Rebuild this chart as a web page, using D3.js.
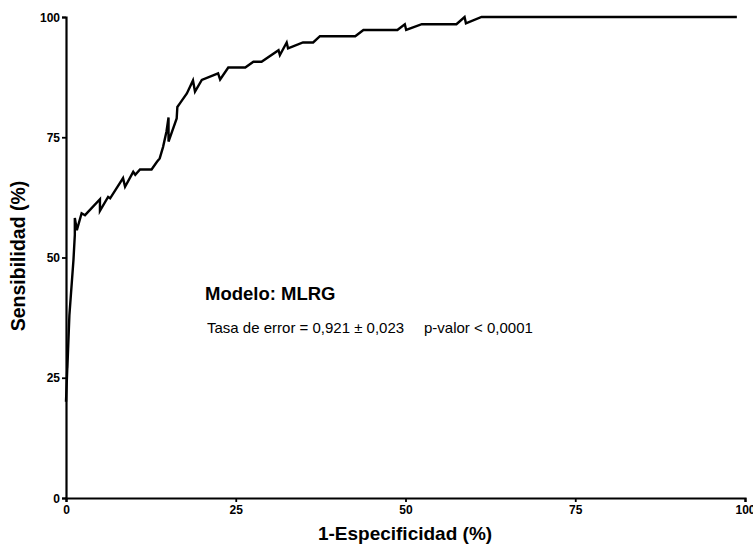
<!DOCTYPE html>
<head>
  <meta charset="utf-8">
  <title>Curva ROC</title>
  <script src="https://d3js.org/d3.v7.min.js"></script>
  <style>
    body { margin: 0; background: #fff; }
    text { font-family: Arial, "Liberation Sans", sans-serif; fill: #000; }
  </style>
</head>
<body>
  <div id="chart"></div>
  <script>
    // 1-Especificidad (%) y Sensibilidad (%)
    var fpr = [0, 0.3, 0.2, 0.5, 1.1, 1.3, 1.3, 1.6, 2.3, 2.8, 5.0, 5.0, 6.2, 6.5, 8.4, 8.7,
      9.9, 10.2, 10.9, 12.6, 13.4, 13.8, 14.3, 14.8, 15.1, 15.1, 16.3, 16.4, 16.8, 17.8,
      18.7, 19.0, 20.0, 22.4, 22.7, 23.9, 26.4, 27.6, 28.8, 31.3, 31.5, 32.5, 32.7, 34.9,
      36.4, 37.4, 42.6, 43.8, 48.8, 49.9, 50.1, 52.4, 57.5, 58.7, 58.9, 61.2, 98.8];
    var sens = [20, 31, 27, 38, 49.5, 54.7, 58.2, 55.7, 59.2, 58.8, 62.1, 59.7, 62.6, 62.3, 66.5, 64.7,
      67.8, 67.2, 68.3, 68.3, 69.9, 70.6, 73.0, 76.2, 79.1, 74.1, 78.9, 81.3, 82.1, 84.1,
      86.8, 84.5, 86.9, 88.3, 87.0, 89.5, 89.5, 90.7, 90.7, 93.1, 92.1, 94.7, 93.5, 94.7,
      94.7, 96.0, 96.0, 97.3, 97.3, 98.5, 97.3, 98.5, 98.5, 100, 98.7, 100, 100];

    var xTicks = [0, 25, 50, 75, 100];
    var yTicks = [0, 25, 50, 75, 100];

    var data = fpr.map(function (d, i) { return { x: d, y: sens[i] }; });

    var margin = { top: 17, right: 8, bottom: 46, left: 66 };
    var width = 753 - margin.left - margin.right;
    var height = 544 - margin.top - margin.bottom;

    var xScale = d3.scaleLinear().domain([0, 100]).range([0, width]);
    var yScale = d3.scaleLinear().domain([0, 100]).range([height, 0]);

    var svg = d3.select('#chart').append('svg')
      .attr('width', 753)
      .attr('height', 544);

    var g = svg.append('g')
      .attr('transform', 'translate(' + margin.left + ',' + margin.top + ')');

    // x-Achse
    var gx = g.append('g')
      .attr('transform', 'translate(0,' + height + ')')
      .call(d3.axisBottom(xScale).tickValues(xTicks).tickSize(4).tickPadding(3));

    // y-Achse
    var gy = g.append('g')
      .call(d3.axisLeft(yScale).tickValues(yTicks).tickSize(4).tickPadding(2));

    [gx, gy].forEach(function (ax) {
      ax.select('.domain').attr('stroke', '#000').attr('stroke-width', 2.2);
      ax.selectAll('.tick line').attr('stroke', '#000').attr('stroke-width', 1.8);
      ax.selectAll('.tick text')
        .style('font-family', 'Arial, "Liberation Sans", sans-serif')
        .style('font-size', '12px')
        .style('font-weight', 'bold')
        .attr('fill', '#000');
    });
    gy.selectAll('.tick text').attr('dy', '0.35em');

    // Kurve
    var line = d3.line()
      .x(function (d) { return xScale(d.x); })
      .y(function (d) { return yScale(d.y); });

    g.append('path')
      .datum(data)
      .attr('fill', 'none')
      .attr('stroke', '#000')
      .attr('stroke-width', 2.4)
      .attr('stroke-linejoin', 'miter')
      .attr('d', line);

    // Achsentitel
    svg.append('text')
      .attr('x', 405)
      .attr('y', 540)
      .attr('text-anchor', 'middle')
      .style('font-size', '19px')
      .style('font-weight', 'bold')
      .text('1-Especificidad (%)');

    svg.append('text')
      .attr('transform', 'translate(25,256) rotate(-90)')
      .attr('text-anchor', 'middle')
      .style('font-size', '19.5px')
      .style('font-weight', 'bold')
      .text('Sensibilidad (%)');

    // Anmerkungen
    svg.append('text')
      .attr('x', 205)
      .attr('y', 300)
      .style('font-size', '18.5px')
      .style('font-weight', 'bold')
      .text('Modelo: MLRG');

    svg.append('text')
      .attr('x', 207)
      .attr('y', 333)
      .style('font-size', '15px')
      .text('Tasa de error = 0,921 \u00b1 0,023');

    svg.append('text')
      .attr('x', 424)
      .attr('y', 333)
      .style('font-size', '15px')
      .text('p-valor < 0,0001');
  </script>
</body>
